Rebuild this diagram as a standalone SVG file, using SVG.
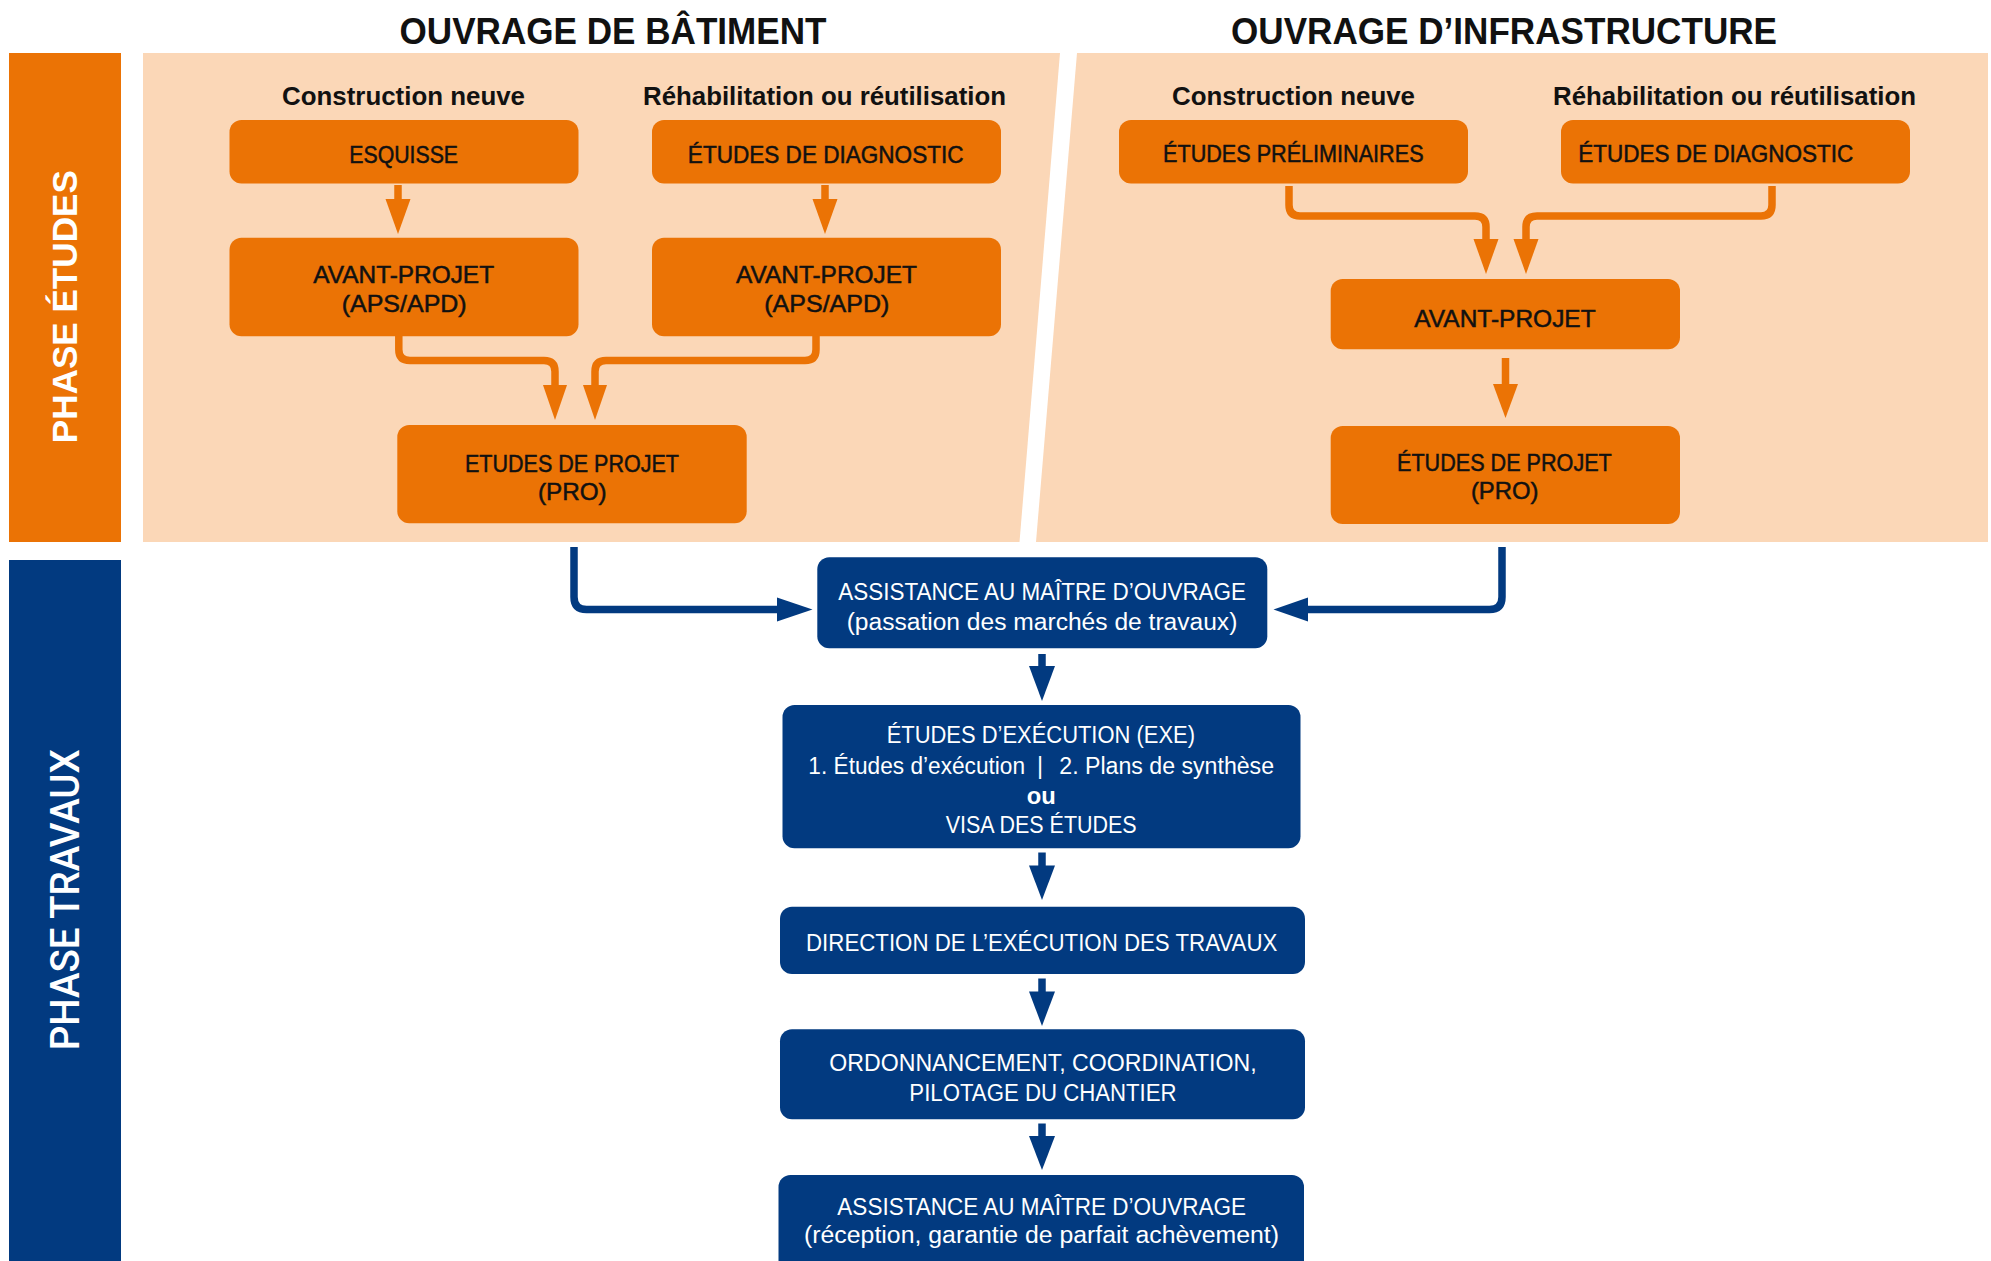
<svg xmlns="http://www.w3.org/2000/svg" width="1991" height="1261" viewBox="0 0 1991 1261">
<style>
.bg{fill:#ffffff}
.peach{fill:#FBD7B7}
.obar{fill:#EB7305}
.bbar{fill:#023A80}
.obox{fill:#EB7305}
.bbox{fill:#023A80}
.head{font-family:"Liberation Sans",Arial,sans-serif;font-weight:700;font-size:37px;fill:#111;text-anchor:middle}
.sub{font-family:"Liberation Sans",Arial,sans-serif;font-weight:700;font-size:26px;fill:#111;text-anchor:middle}
.ot{font-family:"Liberation Sans",Arial,sans-serif;font-size:24px;fill:#111;stroke:#111;stroke-width:0.5;text-anchor:middle}
.bt{font-family:"Liberation Sans",Arial,sans-serif;font-size:23.5px;fill:#fff;text-anchor:middle}
.btb{font-family:"Liberation Sans",Arial,sans-serif;font-size:23.5px;font-weight:700;fill:#fff;text-anchor:middle}
.side1{font-family:"Liberation Sans",Arial,sans-serif;font-weight:700;font-size:35px;fill:#fff;text-anchor:middle}
.side2{font-family:Roboto,"Liberation Sans",sans-serif;font-weight:500;font-size:40px;fill:#fff;text-anchor:middle}
.oline{fill:none;stroke:#EB7305;stroke-width:7.5}
.ohead{fill:#EB7305}
.bline{fill:none;stroke:#023A80;stroke-width:7.5}
.bhead{fill:#023A80}
</style>
<rect class="bg" x="0" y="0" width="1991" height="1261"/>

<g id="background">
  <rect class="obar" x="9" y="53" width="112" height="489"/>
  <rect class="bbar" x="9" y="560" width="112" height="701"/>
  <polygon class="peach" points="143,53 1060,53 1019.5,542 143,542"/>
  <polygon class="peach" points="1077,53 1988,53 1988,542 1036,542"/>
</g>

<g id="labels">
  <text class="side1" transform="translate(76.7,306.7) rotate(-90)" textLength="273" lengthAdjust="spacingAndGlyphs">PHASE ÉTUDES</text>
  <text class="side2" transform="translate(79,899.7) rotate(-90)" textLength="301" lengthAdjust="spacingAndGlyphs">PHASE TRAVAUX</text>
  <text class="head" x="613" y="44.3" textLength="427" lengthAdjust="spacingAndGlyphs">OUVRAGE DE BÂTIMENT</text>
  <text class="head" x="1504" y="44.3" textLength="546" lengthAdjust="spacingAndGlyphs">OUVRAGE D’INFRASTRUCTURE</text>
  <text class="sub" x="403.5" y="105" textLength="243" lengthAdjust="spacingAndGlyphs">Construction neuve</text>
  <text class="sub" x="824.5" y="105" textLength="363" lengthAdjust="spacingAndGlyphs">Réhabilitation ou réutilisation</text>
  <text class="sub" x="1293.5" y="105" textLength="243" lengthAdjust="spacingAndGlyphs">Construction neuve</text>
  <text class="sub" x="1734.5" y="105" textLength="363" lengthAdjust="spacingAndGlyphs">Réhabilitation ou réutilisation</text>
</g>

<g id="connectors">
  <line class="oline" x1="398" y1="185" x2="398" y2="201"/>
  <polygon class="ohead" points="385.5,199 410.5,199 398,234"/>
  <line class="oline" x1="825" y1="185" x2="825" y2="201"/>
  <polygon class="ohead" points="812.5,199 837.5,199 825,234"/>
  <path class="oline" d="M398.8,336 V349.5 Q398.8,360.5 410,360.5 H544 Q555,360.5 555,371.5 V387"/>
  <polygon class="ohead" points="543,385 567,385 555,420"/>
  <path class="oline" d="M816,336 V349.5 Q816,360.5 805,360.5 H606 Q595,360.5 595,371.5 V387"/>
  <polygon class="ohead" points="583,385 607,385 595,420"/>
  <path class="oline" d="M1289,186 V205 Q1289,216 1300,216 H1475 Q1486,216 1486,227 V241"/>
  <polygon class="ohead" points="1473.5,239 1498.5,239 1486,274"/>
  <path class="oline" d="M1772,186 V205 Q1772,216 1761,216 H1537 Q1526,216 1526,227 V241"/>
  <polygon class="ohead" points="1513.5,239 1538.5,239 1526,274"/>
  <line class="oline" x1="1505.5" y1="358" x2="1505.5" y2="386"/>
  <polygon class="ohead" points="1493,384 1518,384 1505.5,418"/>
  <path class="bline" d="M574,547 V597 Q574,609.5 586.5,609.5 H779"/>
  <polygon class="bhead" points="777,597.5 777,621.5 812.5,609.5"/>
  <path class="bline" d="M1502,547 V597 Q1502,609.5 1489.5,609.5 H1306"/>
  <polygon class="bhead" points="1308,597.5 1308,621.5 1273.5,609.5"/>
  <line class="bline" x1="1042" y1="654" x2="1042" y2="668"/>
  <polygon class="bhead" points="1029,666 1055,666 1042,701"/>
  <line class="bline" x1="1042" y1="852.5" x2="1042" y2="867"/>
  <polygon class="bhead" points="1029,865.5 1055,865.5 1042,900"/>
  <line class="bline" x1="1042" y1="978.5" x2="1042" y2="993"/>
  <polygon class="bhead" points="1029,991.5 1055,991.5 1042,1026"/>
  <line class="bline" x1="1042" y1="1123.5" x2="1042" y2="1138"/>
  <polygon class="bhead" points="1029,1136 1055,1136 1042,1170"/>
</g>

<g id="esquisse">
  <rect class="obox" x="229.5" y="120" width="349" height="63.5" rx="12"/>
  <text class="ot" x="403.7" y="163.3" textLength="108.7" lengthAdjust="spacingAndGlyphs">ESQUISSE</text>
</g>
<g id="diag-bat">
  <rect class="obox" x="652" y="120" width="349" height="63.5" rx="12"/>
  <text class="ot" x="825.7" y="163.3" textLength="275.7" lengthAdjust="spacingAndGlyphs">ÉTUDES DE DIAGNOSTIC</text>
</g>
<g id="avp-bat-1">
  <rect class="obox" x="229.5" y="237.7" width="349" height="98.5" rx="12"/>
  <text class="ot" x="403.7" y="282.7" textLength="180.7" lengthAdjust="spacingAndGlyphs">AVANT-PROJET</text>
  <text class="ot" x="404.2" y="311.7" textLength="125" lengthAdjust="spacingAndGlyphs">(APS/APD)</text>
</g>
<g id="avp-bat-2">
  <rect class="obox" x="652" y="237.7" width="349" height="98.5" rx="12"/>
  <text class="ot" x="826.5" y="282.7" textLength="181" lengthAdjust="spacingAndGlyphs">AVANT-PROJET</text>
  <text class="ot" x="826.8" y="311.7" textLength="125" lengthAdjust="spacingAndGlyphs">(APS/APD)</text>
</g>
<g id="pro-bat">
  <rect class="obox" x="397.3" y="425" width="349.4" height="98.3" rx="12"/>
  <text class="ot" x="572" y="471.7" textLength="214" lengthAdjust="spacingAndGlyphs">ETUDES DE PROJET</text>
  <text class="ot" x="572.3" y="500" textLength="68.7" lengthAdjust="spacingAndGlyphs">(PRO)</text>
</g>

<g id="prelim-inf">
  <rect class="obox" x="1119" y="120" width="349" height="63.5" rx="12"/>
  <text class="ot" x="1293.3" y="162" textLength="260.5" lengthAdjust="spacingAndGlyphs">ÉTUDES PRÉLIMINAIRES</text>
</g>
<g id="diag-inf">
  <rect class="obox" x="1561" y="120" width="349" height="63.5" rx="12"/>
  <text class="ot" x="1715.7" y="162" textLength="275" lengthAdjust="spacingAndGlyphs">ÉTUDES DE DIAGNOSTIC</text>
</g>
<g id="avp-inf">
  <rect class="obox" x="1330.7" y="279" width="349.3" height="70.3" rx="12"/>
  <text class="ot" x="1505" y="326.7" textLength="181.3" lengthAdjust="spacingAndGlyphs">AVANT-PROJET</text>
</g>
<g id="pro-inf">
  <rect class="obox" x="1330.7" y="426" width="349.3" height="98" rx="12"/>
  <text class="ot" x="1504.4" y="470.5" textLength="214.8" lengthAdjust="spacingAndGlyphs">ÉTUDES DE PROJET</text>
  <text class="ot" x="1504.7" y="499" textLength="67.6" lengthAdjust="spacingAndGlyphs">(PRO)</text>
</g>

<g id="amo-passation">
  <rect class="bbox" x="817.3" y="557.3" width="450" height="91" rx="12"/>
  <text class="bt" x="1042.2" y="600" textLength="407.7" lengthAdjust="spacingAndGlyphs">ASSISTANCE AU MAÎTRE D’OUVRAGE</text>
  <text class="bt" x="1042" y="630" textLength="390.7" lengthAdjust="spacingAndGlyphs">(passation des marchés de travaux)</text>
</g>
<g id="exe">
  <rect class="bbox" x="782.5" y="705" width="518" height="143.3" rx="12"/>
  <text class="bt" x="1040.8" y="743.3" textLength="308.3" lengthAdjust="spacingAndGlyphs">ÉTUDES D’EXÉCUTION (EXE)</text>
  <text class="bt" x="916.7" y="774" textLength="216.7" lengthAdjust="spacingAndGlyphs">1. Études d’exécution</text>
  <text class="bt" x="1040" y="774">|</text>
  <text class="bt" x="1166.7" y="774" textLength="214.7" lengthAdjust="spacingAndGlyphs">2. Plans de synthèse</text>
  <text class="btb" x="1041.2" y="804" textLength="29" lengthAdjust="spacingAndGlyphs">ou</text>
  <text class="bt" x="1041.2" y="833.3" textLength="191" lengthAdjust="spacingAndGlyphs">VISA DES ÉTUDES</text>
</g>
<g id="det">
  <rect class="bbox" x="780" y="906.7" width="525" height="67.3" rx="12"/>
  <text class="bt" x="1041.7" y="951" textLength="471.3" lengthAdjust="spacingAndGlyphs">DIRECTION DE L’EXÉCUTION DES TRAVAUX</text>
</g>
<g id="opc">
  <rect class="bbox" x="780" y="1029.3" width="525" height="90" rx="12"/>
  <text class="bt" x="1043" y="1071" textLength="427.3" lengthAdjust="spacingAndGlyphs">ORDONNANCEMENT, COORDINATION,</text>
  <text class="bt" x="1043" y="1101" textLength="267.3" lengthAdjust="spacingAndGlyphs">PILOTAGE DU CHANTIER</text>
</g>
<g id="amo-reception">
  <rect class="bbox" x="778.5" y="1175" width="525.5" height="110" rx="12"/>
  <text class="bt" x="1041.7" y="1215" textLength="408.7" lengthAdjust="spacingAndGlyphs">ASSISTANCE AU MAÎTRE D’OUVRAGE</text>
  <text class="bt" x="1041.5" y="1243.3" textLength="475" lengthAdjust="spacingAndGlyphs">(réception, garantie de parfait achèvement)</text>
</g>
</svg>
